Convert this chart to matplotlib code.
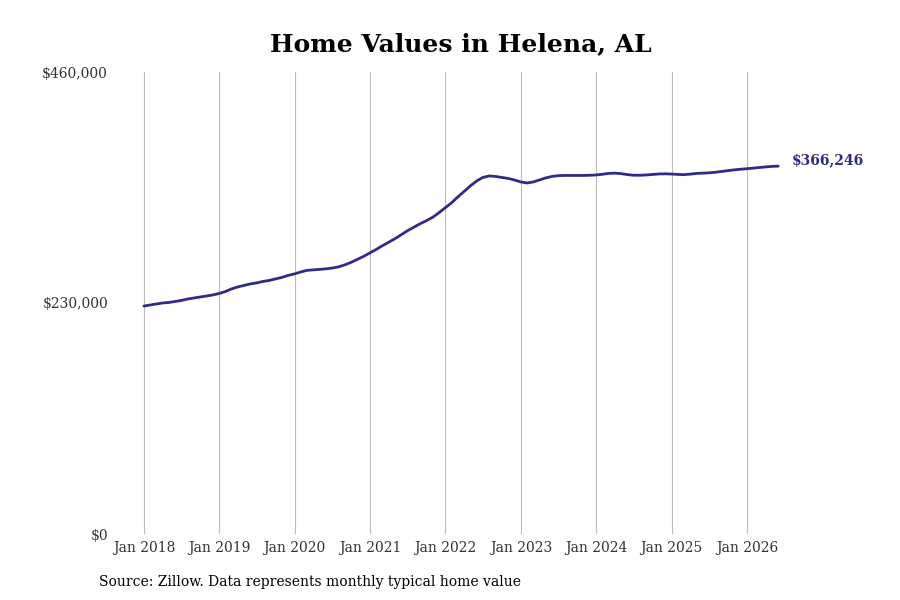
import datetime as dt
import matplotlib
matplotlib.use("Agg")
import matplotlib.pyplot as plt
import matplotlib.dates as mdates
from matplotlib.ticker import FuncFormatter

# monthly typical home value, Jan 2018 .. Jun 2026 (thousands of $)
values_2018 = [227, 228, 229, 230, 230.5, 231.5, 232.5, 234, 235, 236, 237, 238]
values_2019 = [239.5, 241.5, 244, 246, 247.5, 249, 250, 251.5, 252.5, 254, 255.5, 257.5]
values_2020 = [259, 261, 262.5, 263, 263.5, 264, 264.8, 266, 268, 270.5, 273.5, 276.5]
values_2021 = [280, 283.5, 287, 290.5, 294, 298, 302, 305.5, 309, 312, 315.5, 320]
values_2022 = [325, 330, 335.5, 341, 346.5, 351.5, 355, 356.5, 356, 355, 354, 352.5]
values_2023 = [350.5, 349.5, 350.5, 352.5, 354.5, 356, 356.8, 357, 357, 357, 357, 357.2]
values_2024 = [357.5, 358.2, 359, 359.3, 358.8, 357.8, 357.2, 357.2, 357.5, 358, 358.5, 358.6]
values_2025 = [358.4, 358, 357.8, 358.3, 359, 359.3, 359.6, 360.2, 361, 361.8, 362.6, 363.2]
values_2026 = [363.7, 364.3, 364.9, 365.5, 366.0, 366.246]

values = (values_2018 + values_2019 + values_2020 + values_2021 + values_2022
          + values_2023 + values_2024 + values_2025 + values_2026)
values = [v * 1000 for v in values]
dates = [dt.date(2018 + i // 12, i % 12 + 1, 1) for i in range(len(values))]

year_ticks = [dt.date(y, 1, 1) for y in range(2018, 2027)]
y_ticks = [0, 230000, 460000]
last_label = "$366,246"

line_color = "#2f2b8a"
text_color = "#333333"

plt.rcParams["font.family"] = "DejaVu Serif"

fig = plt.figure(figsize=(9, 6), dpi=100)
ax = fig.add_axes([115 / 900, 66 / 600, 675 / 900, 462 / 600])

ax.plot(dates, values, color=line_color, linewidth=2.0, solid_capstyle="round")

ax.set_ylim(0, 460000)
ax.set_yticks(y_ticks)
ax.yaxis.set_major_formatter(FuncFormatter(lambda v, p: f"${v:,.0f}"))

x0 = dt.date(2018, 1, 1)
ax.set_xlim(x0 - dt.timedelta(days=140), x0 + dt.timedelta(days=3130))
ax.set_xticks(year_ticks)
ax.xaxis.set_major_formatter(mdates.DateFormatter("Jan %Y"))

ax.grid(axis="x", color="#bbbbbb", linewidth=0.8)
ax.grid(axis="y", visible=False)
for s in ax.spines.values():
    s.set_visible(False)
ax.tick_params(axis="both", length=0, labelsize=10, labelcolor=text_color)
ax.tick_params(axis="y", pad=5)
ax.tick_params(axis="x", pad=5)

ax.annotate(last_label, xy=(dates[-1], values[-1]), xytext=(10, 4),
            textcoords="offset points", ha="left", va="center",
            fontsize=10, fontweight="bold", color=line_color)

fig.text(0.512, 1 - 44 / 600, "Home Values in Helena, AL", ha="center", va="center",
         fontsize=18, fontweight="bold", color="black")
fig.text(99 / 900, 1 - 582 / 600, "Source: Zillow. Data represents monthly typical home value",
         ha="left", va="center", fontsize=10, color="black")

fig.savefig("out.png", dpi=100)
